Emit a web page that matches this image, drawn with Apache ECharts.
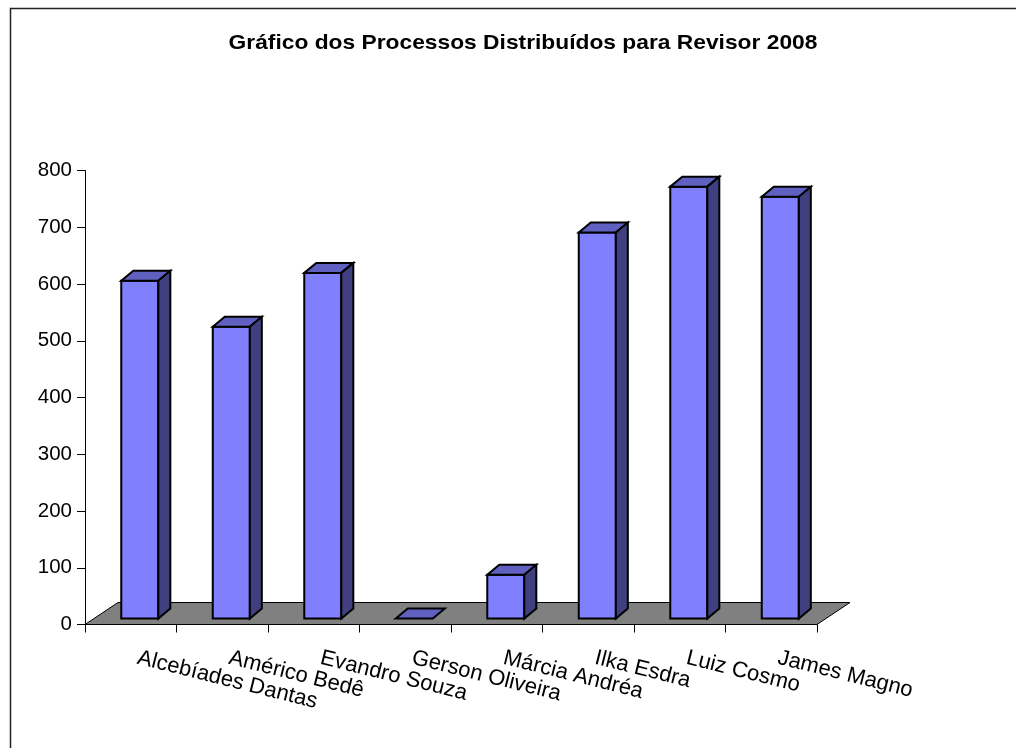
<!DOCTYPE html>
<html><head><meta charset="utf-8">
<style>html,body{margin:0;padding:0;background:#fff}#c{width:1016px;height:748px}</style>
<script src="https://cdn.jsdelivr.net/npm/echarts@6/dist/echarts.min.js"></script>
</head><body><div id="c"></div>
<script>
const categories = ['Alcebíades Dantas','Américo Bedê','Evandro Souza','Gerson Oliveira','Márcia Andréa','Ilka Esdra','Luiz Cosmo','James Magno'];
const values = [595, 514, 609, 0, 77, 680, 761, 743];
const yTicks = {min: 0, max: 800, interval: 100};
const titleText = 'Gráfico dos Processos Distribuídos para Revisor 2008';

const FRONT = '#8080ff', TOP = '#6060c0', SIDE = '#404080', FLOOR = '#808080', EDGE = '#000';
const chart = echarts.init(document.getElementById('c'), null, {renderer: 'canvas'});

function poly(points, fill, lw) {
  return {type: 'polygon', shape: {points}, style: {fill, stroke: EDGE, lineWidth: lw, lineJoin: 'miter'}};
}
chart.setOption({
  animation: false,
  backgroundColor: '#fff',
  graphic: [
    {type: 'polyline', shape: {points: [[10.5, 748], [10.5, 8.5], [1016, 8.5]]},
     style: {fill: 'none', stroke: '#222', lineWidth: 1.5}, silent: true, z: -1},
    {type: 'text', x: 523, y: 43, scaleX: 1.085, silent: true,
     style: {text: titleText, align: 'center', verticalAlign: 'middle',
       font: 'bold 21px "Liberation Sans"', fill: '#000'}}
  ],
  grid: {left: 85, right: 199, top: 170.5, bottom: 123.5, containLabel: false},
  xAxis: {type: 'category', data: categories, boundaryGap: true,
    axisLine: {lineStyle: {color: '#000', width: 1}},
    axisTick: {show: true, length: 8, alignWithLabel: false, lineStyle: {color: '#000'}},
    splitLine: {show: false},
    axisLabel: {interval: 0, rotate: -14, margin: 20, hideOverlap: false, align: 'left', verticalAlign: 'top',
      padding: [0, 0, 0, 10],
      fontFamily: 'Liberation Sans', fontSize: 22, color: '#000'}},
  yAxis: {type: 'value', min: yTicks.min, max: yTicks.max, interval: yTicks.interval,
    axisLine: {show: true, lineStyle: {color: '#000', width: 1}},
    axisTick: {show: true, length: 8, lineStyle: {color: '#000'}},
    splitLine: {show: false},
    axisLabel: {margin: 13, fontFamily: 'Liberation Sans', fontSize: 20.5, color: '#000'}},
  series: [
    {type: 'custom', silent: true, z: 1, coordinateSystem: 'cartesian2d',
     data: [[0, 0]],
     renderItem(params, api) {
       const cs = params.coordSys, y0 = cs.y + cs.height;
       const dx = 33, dy = 22;
       return poly([[cs.x, y0], [cs.x + dx, y0 - dy], [cs.x + cs.width + dx, y0 - dy], [cs.x + cs.width, y0]], FLOOR, 1);
     }},
    {type: 'custom', silent: true, z: 2, coordinateSystem: 'cartesian2d',
     encode: {x: 0, y: 1},
     data: values.map((v, i) => [i, v]),
     renderItem(params, api) {
       const p = api.coord([api.value(0), api.value(1)]);
       const base = api.coord([api.value(0), 0]);
       const band = api.size([1, 0])[0];
       const w = band * 0.405, dx = 12, dy = 10, lift = 6;
       const l = p[0] - band * 0.2075 + 9.5, r = l + w, b = base[1] - lift, t = p[1] - lift;
       const children = [];
       if (b - t > 1) children.push(poly([[l, t], [r, t], [r, b], [l, b]], FRONT, 2));
       children.push(poly([[l, t], [l + dx, t - dy], [r + dx, t - dy], [r, t]], TOP, 2));
       if (b - t > 1) children.push(poly([[r, t], [r + dx, t - dy], [r + dx, b - dy], [r, b]], SIDE, 2));
       return {type: 'group', children};
     }}
  ]
});
</script></body></html>
